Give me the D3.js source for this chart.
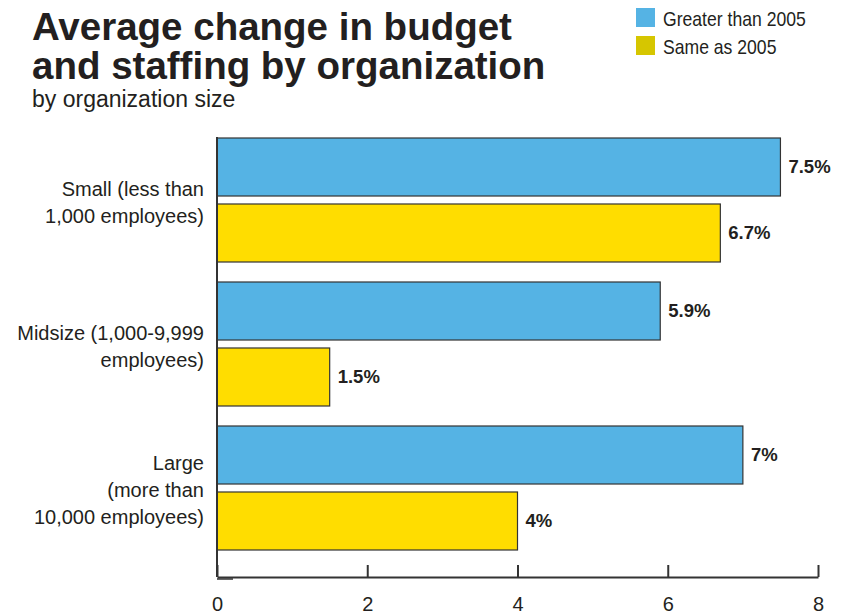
<!DOCTYPE html>
<html>
<head>
<meta charset="utf-8">
<script src="https://cdn.jsdelivr.net/npm/d3@7"></script>
<style>
  html, body { margin: 0; padding: 0; background: #fff; }
  svg { display: block; }
</style>
</head>
<body>
<svg id="chart" width="846" height="614"></svg>
<script>
// Organization sizes (each label split into lines)
const categories = ["Small", "Midsize", "Large"];
const categoryLines = [
  ["Small (less than", "1,000 employees)"],
  ["Midsize (1,000-9,999", "employees)"],
  ["Large", "(more than", "10,000 employees)"]
];
const seriesNames = ["Greater than 2005", "Same as 2005"];
const greaterThan2005 = [7.5, 5.9, 7];
const sameAs2005 = [6.7, 1.5, 4];
const valueLabels = [["7.5%", "6.7%"], ["5.9%", "1.5%"], ["7%", "4%"]];
const xTicks = [0, 2, 4, 6, 8];

const barColors = ["#55b3e4", "#ffdd00"];
const legendColors = ["#55b3e4", "#d6c600"];

const svg = d3.select("#chart");
const sans = '"Liberation Sans", Arial, sans-serif';
const ink = "#231f20";

// Title block
const title = svg.append("g").attr("font-family", sans).attr("font-weight", "bold")
  .attr("font-size", 38.5).attr("fill", ink);
title.append("text").attr("x", 32).attr("y", 40).text("Average change in budget");
title.append("text").attr("x", 32).attr("y", 79).text("and staffing by organization");
svg.append("text").attr("x", 32).attr("y", 107)
  .attr("font-family", sans).attr("font-size", 23).attr("fill", ink)
  .text("by organization size");

// Legend
const legend = svg.append("g");
seriesNames.forEach((name, i) => {
  legend.append("rect").attr("x", 636).attr("y", 8 + i * 28)
    .attr("width", 19).attr("height", 19).attr("fill", legendColors[i]);
  legend.append("text").attr("transform", `translate(663,${26 + i * 28}) scale(0.88,1)`)
    .attr("font-family", sans).attr("font-size", 20).attr("fill", ink)
    .text(name);
});

// Scales
const x = d3.scaleLinear().domain([0, 8]).range([217, 818]);
const y0 = d3.scaleBand().domain(categories).range([138, 138 + 3 * 144]);
const y1 = d3.scaleBand().domain([0, 1]).range([0, 124]).paddingInner(0.121);

const data = categories.map((c, i) => ({ cat: c, vals: [greaterThan2005[i], sameAs2005[i]] }));

const groups = svg.append("g").selectAll("g").data(data).join("g")
  .attr("transform", d => `translate(0,${y0(d.cat)})`);

groups.selectAll("rect").data((d, i) => d.vals.map((v, j) => ({ v, j, i })))
  .join("rect")
  .attr("x", x(0))
  .attr("y", d => y1(d.j))
  .attr("width", d => x(d.v) - x(0))
  .attr("height", y1.bandwidth())
  .attr("fill", d => barColors[d.j])
  .attr("stroke", "#333")
  .attr("stroke-width", 1.2);

groups.selectAll("text.val").data((d, i) => d.vals.map((v, j) => ({ v, j, i })))
  .join("text").attr("class", "val")
  .attr("x", d => x(d.v) + 8)
  .attr("y", d => y1(d.j) + y1.bandwidth() / 2 + 6)
  .attr("font-family", sans).attr("font-weight", "bold")
  .attr("font-size", 18.5).attr("fill", ink)
  .text(d => valueLabels[d.i][d.j]);

// Category labels, centred on each pair of bars
groups.each(function (d, i) {
  const lines = categoryLines[i];
  const lh = 27;
  const cy = 62;
  const startY = cy - (lines.length - 1) * lh / 2 + 9;
  const t = d3.select(this).append("text")
    .attr("text-anchor", "end").attr("font-family", sans)
    .attr("font-size", 20).attr("fill", ink);
  lines.forEach((ln, k) => {
    t.append("tspan").attr("x", 204).attr("y", startY + k * lh).text(ln);
  });
});

// Axes
const axisY = 577;
svg.append("line").attr("x1", x(0)).attr("x2", x(0)).attr("y1", 137).attr("y2", axisY)
  .attr("stroke", "#333").attr("stroke-width", 2);

const xAxis = d3.axisBottom(x).tickValues(xTicks).tickSize(0).tickFormat(d3.format("d"));
const ax = svg.append("g").attr("transform", `translate(0,${axisY})`).call(xAxis);
ax.select(".domain").attr("stroke", "#333").attr("stroke-width", 2);
ax.selectAll(".tick line").attr("y1", 0).attr("y2", -12).attr("stroke", "#333").attr("stroke-width", 2);
ax.selectAll(".tick text").attr("y", 34).attr("dy", "0")
  .attr("font-family", sans).attr("font-size", 20).attr("fill", ink);
svg.append("line").attr("x1", x(0)).attr("x2", x(0) + 16).attr("y1", axisY + 2).attr("y2", axisY + 2)
  .attr("stroke", "#333").attr("stroke-width", 1.5);
</script>
</body>
</html>
